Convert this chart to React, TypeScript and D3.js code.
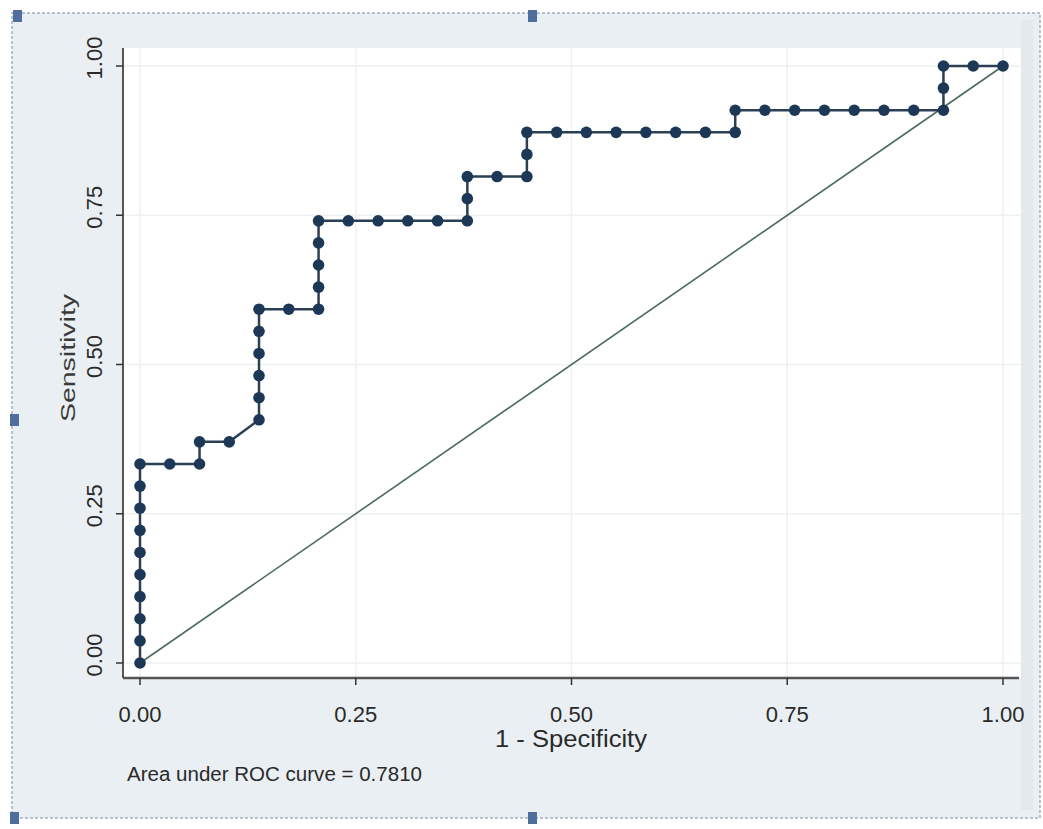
import * as d3 from "d3";
import React, { useEffect, useRef } from "react";

// ROC points (1 - specificity, sensitivity) in curve order
const fpr = [
  0, 0, 0, 0, 0, 0, 0, 0, 0, 0, 0.0345, 0.069, 0.069, 0.1034, 0.1379, 0.1379,
  0.1379, 0.1379, 0.1379, 0.1379, 0.1724, 0.2069, 0.2069, 0.2069, 0.2069,
  0.2069, 0.2414, 0.2759, 0.3103, 0.3448, 0.3793, 0.3793, 0.3793, 0.4138,
  0.4483, 0.4483, 0.4483, 0.4828, 0.5172, 0.5517, 0.5862, 0.6207, 0.6552,
  0.6897, 0.6897, 0.7241, 0.7586, 0.7931, 0.8276, 0.8621, 0.8966, 0.931,
  0.931, 0.931, 0.9655, 1,
];
const sensitivity = [
  0, 0.037, 0.0741, 0.1111, 0.1481, 0.1852, 0.2222, 0.2593, 0.2963, 0.3333,
  0.3333, 0.3333, 0.3704, 0.3704, 0.4074, 0.4444, 0.4815, 0.5185, 0.5556,
  0.5926, 0.5926, 0.5926, 0.6296, 0.6667, 0.7037, 0.7407, 0.7407, 0.7407,
  0.7407, 0.7407, 0.7407, 0.7778, 0.8148, 0.8148, 0.8148, 0.8519, 0.8889,
  0.8889, 0.8889, 0.8889, 0.8889, 0.8889, 0.8889, 0.8889, 0.9259, 0.9259,
  0.9259, 0.9259, 0.9259, 0.9259, 0.9259, 0.9259, 0.963, 1, 1, 1,
];
const referenceLine = [0, 1];
const xTicks = [0, 0.25, 0.5, 0.75, 1];
const yTicks = [0, 0.25, 0.5, 0.75, 1];
const aucLabel = "Area under ROC curve = 0.7810";

const W = 1043;
const H = 829;
const FONT = "'Liberation Sans', Arial, Helvetica, sans-serif";

export default function App() {
  const svgRef = useRef<SVGSVGElement>(null);

  useEffect(() => {
    const svg = d3.select(svgRef.current);
    svg.selectAll("*").remove();

    // frame of the plot region
    const plot = { left: 123, right: 1021, top: 48, bottom: 678 };
    const x = d3.scaleLinear().domain([0, 1]).range([140, 1003]);
    const y = d3.scaleLinear().domain([0, 1]).range([663, 66]);

    // outer graph region + dotted selection border
    svg
      .append("rect")
      .attr("x", 12)
      .attr("y", 13)
      .attr("width", 1028)
      .attr("height", 805)
      .attr("fill", "#e9eff2");
    svg
      .append("rect")
      .attr("x", 1021)
      .attr("y", 20)
      .attr("width", 12)
      .attr("height", 790)
      .attr("fill", "#e3e9ed");
    svg
      .append("rect")
      .attr("x", 12)
      .attr("y", 13)
      .attr("width", 1028)
      .attr("height", 805)
      .attr("fill", "none")
      .attr("stroke", "#9fb0c2")
      .attr("stroke-width", 1.5)
      .attr("stroke-dasharray", "3,2");

    // white plot area
    svg
      .append("rect")
      .attr("x", plot.left)
      .attr("y", plot.top)
      .attr("width", plot.right - plot.left)
      .attr("height", plot.bottom - plot.top)
      .attr("fill", "#ffffff");

    // faint grid
    const g = svg.append("g");
    g.selectAll(".gx")
      .data(xTicks)
      .join("line")
      .attr("x1", (d) => x(d))
      .attr("x2", (d) => x(d))
      .attr("y1", plot.top)
      .attr("y2", plot.bottom)
      .attr("stroke", "#eef1f1")
      .attr("stroke-width", 1.5);
    g.selectAll(".gy")
      .data(yTicks)
      .join("line")
      .attr("x1", plot.left)
      .attr("x2", plot.right)
      .attr("y1", (d) => y(d))
      .attr("y2", (d) => y(d))
      .attr("stroke", "#eef1f1")
      .attr("stroke-width", 1.5);

    // axes
    svg
      .append("line")
      .attr("x1", plot.left)
      .attr("x2", plot.left)
      .attr("y1", plot.top)
      .attr("y2", plot.bottom)
      .attr("stroke", "#555")
      .attr("stroke-width", 2);
    svg
      .append("line")
      .attr("x1", plot.left)
      .attr("x2", plot.right - 2)
      .attr("y1", plot.bottom)
      .attr("y2", plot.bottom)
      .attr("stroke", "#555")
      .attr("stroke-width", 2.5);

    // x ticks + labels
    svg
      .selectAll(".xt")
      .data(xTicks)
      .join("line")
      .attr("x1", (d) => x(d))
      .attr("x2", (d) => x(d))
      .attr("y1", plot.bottom)
      .attr("y2", plot.bottom + 7)
      .attr("stroke", "#333")
      .attr("stroke-width", 1.5);
    svg
      .selectAll(".xl")
      .data(xTicks)
      .join("text")
      .attr("x", (d) => x(d))
      .attr("y", 722)
      .attr("text-anchor", "middle")
      .attr("font-family", FONT)
      .attr("font-size", 22)
      .attr("fill", "#2a2a2a")
      .text((d) => d.toFixed(2));

    // y ticks + rotated labels
    svg
      .selectAll(".yt")
      .data(yTicks)
      .join("line")
      .attr("x1", plot.left - 7)
      .attr("x2", plot.left)
      .attr("y1", (d) => y(d))
      .attr("y2", (d) => y(d))
      .attr("stroke", "#333")
      .attr("stroke-width", 1.5);
    svg
      .selectAll(".yl")
      .data(yTicks)
      .join("text")
      .attr("transform", (d) => `translate(102, ${y(d) - 8}) rotate(-90)`)
      .attr("text-anchor", "middle")
      .attr("font-family", FONT)
      .attr("font-size", 22)
      .attr("fill", "#2a2a2a")
      .text((d) => d.toFixed(2));

    // axis titles
    svg
      .append("text")
      .attr("x", 571)
      .attr("y", 747)
      .attr("text-anchor", "middle")
      .attr("font-family", FONT)
      .attr("font-size", 23)
      .attr("textLength", 152)
      .attr("lengthAdjust", "spacingAndGlyphs")
      .attr("fill", "#2a2a2a")
      .text("1 - Specificity");
    svg
      .append("text")
      .attr("transform", "translate(75, 358) rotate(-90)")
      .attr("text-anchor", "middle")
      .attr("font-family", FONT)
      .attr("font-size", 21)
      .attr("textLength", 128)
      .attr("lengthAdjust", "spacingAndGlyphs")
      .attr("fill", "#3a3a3a")
      .text("Sensitivity");

    // note
    svg
      .append("text")
      .attr("x", 127)
      .attr("y", 781)
      .attr("font-family", FONT)
      .attr("font-size", 20)
      .attr("textLength", 295)
      .attr("lengthAdjust", "spacingAndGlyphs")
      .attr("fill", "#2a2a2a")
      .text(aucLabel);

    // reference diagonal
    svg
      .append("line")
      .attr("x1", x(referenceLine[0]))
      .attr("y1", y(referenceLine[0]))
      .attr("x2", x(referenceLine[1]))
      .attr("y2", y(referenceLine[1]))
      .attr("stroke", "#4d6b5c")
      .attr("stroke-width", 1.6);

    // ROC curve
    const pts = fpr.map((f, i) => [f, sensitivity[i]] as [number, number]);
    const line = d3
      .line<[number, number]>()
      .x((d) => x(d[0]))
      .y((d) => y(d[1]));
    svg
      .append("path")
      .attr("d", line(pts))
      .attr("fill", "none")
      .attr("stroke", "#2b3f55")
      .attr("stroke-width", 2.5);
    svg
      .selectAll(".pt")
      .data(pts)
      .join("circle")
      .attr("cx", (d) => x(d[0]))
      .attr("cy", (d) => y(d[1]))
      .attr("r", 5.8)
      .attr("fill", "#1c3856");

    // selection handles
    const handles = [
      [13, 10],
      [528, 10],
      [10, 414],
      [10, 812],
      [528, 812],
    ];
    svg
      .selectAll(".h")
      .data(handles)
      .join("rect")
      .attr("x", (d) => d[0])
      .attr("y", (d) => d[1])
      .attr("width", 9)
      .attr("height", 12)
      .attr("fill", "#4f6e9c");
  }, []);

  return (
    <svg
      ref={svgRef}
      width={W}
      height={H}
      style={{ position: "absolute", left: 0, top: 0, background: "#fff" }}
    />
  );
}
